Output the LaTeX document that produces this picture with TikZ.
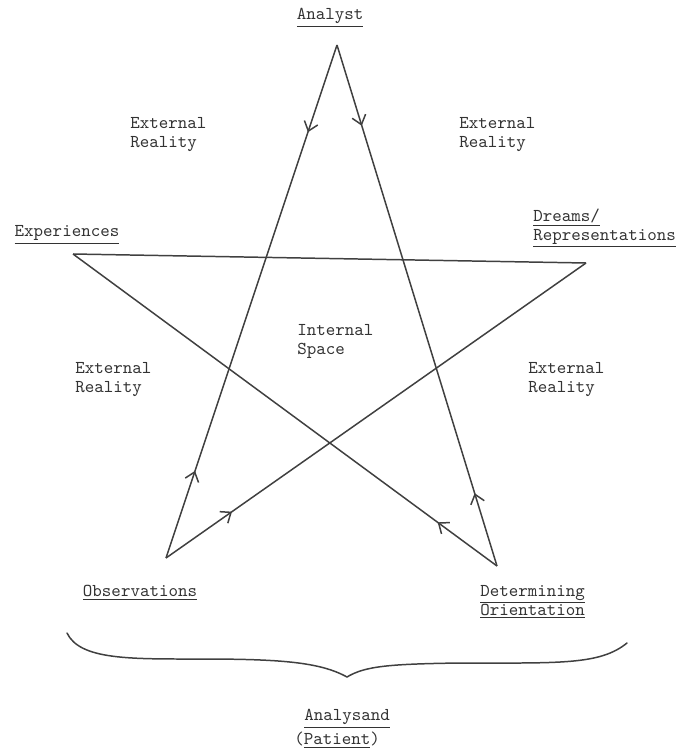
\documentclass[tikz,border=0pt]{standalone}
\usepackage{tikz}
\usetikzlibrary{decorations.markings}
\usetikzlibrary{arrows.meta}
\tikzset{>={Straight Barb[length=5pt,width=8pt]}}
\tikzset{
  two way arrows/.style 2 args={
    postaction={
      decorate,
      decoration={
        markings,
        mark=at position #1 with {\arrow{>}},
        mark=at position #2 with {\arrow{<}},
   }}}}
\tikzset{
  one way arrow/.style={
    postaction={
      decorate,
      decoration={
        markings,
        mark=at position #1 with {\arrow{>}},
   }}}}
\tikzset{%
    typed/.style={%
        inner sep=0pt, align=left, text=black!80,
        font=\fontsize{10.3}{10.8}\selectfont\ttfamily
    },
    starline/.style={line width=0.85pt, draw=black!75}
}

\begin{document}
\begin{tikzpicture}[x=0.02cm,y=-0.02cm]
    \useasboundingbox (0,0) rectangle (691,750);
    % points of the star
    \coordinate (A) at (337,45);
    \coordinate (E) at (73,254);
    \coordinate (D) at (586,263);
    \coordinate (O) at (166,558);
    \coordinate (T) at (497,566);
    \draw[starline,two way arrows={0.17}{0.85}] (A) -- (O);
    \draw[starline,two way arrows={0.155}{0.88}] (A) -- (T);
    \draw[starline] (E) -- (D);
    \draw[starline,one way arrow=0.157] (O) -- (D);
    \draw[starline,one way arrow=0.14] (T) -- (E);
    % labels
    \node[typed] (analyst) at (330,18) {\underline{Analyst}};
    \node[typed,anchor=west] (extTL) at (130,135) {External\\Reality};
    \node[typed,anchor=west] (extTR) at (459,135) {External\\Reality};
    \node[typed] (exper) at (67,235) {\underline{Experiences}};
    \node[typed,anchor=west] (dreams) at (533,228) {\underline{Dreams/}\\\underline{Representations}};
    \node[typed,anchor=west] (internal) at (297,341) {Internal\\Space};
    \node[typed,anchor=west] (extML) at (75,380) {External\\Reality};
    \node[typed,anchor=west] (extMR) at (528,380) {External\\Reality};
    \node[typed] (observ) at (140,593) {\underline{Observations}};
    \node[typed,anchor=west] (determ) at (480,602) {\underline{Determining}\\\underline{Orientation}};
    \node[typed] (analysand) at (347,719) {\underline{Analysand}};
    \node[typed] (patient) at (337,740) {(\underline{Patient})};
    % brace
    \draw[starline,line cap=round]
    (67,633) .. controls (80,660) and (130,659) .. (200,659)
             .. controls (280,659) and (320,662) .. (347,677)
             .. controls (365,666) and (390,664) .. (460,663)
             .. controls (560,663) and (600,665) .. (627,643);
\end{tikzpicture}
\end{document}
